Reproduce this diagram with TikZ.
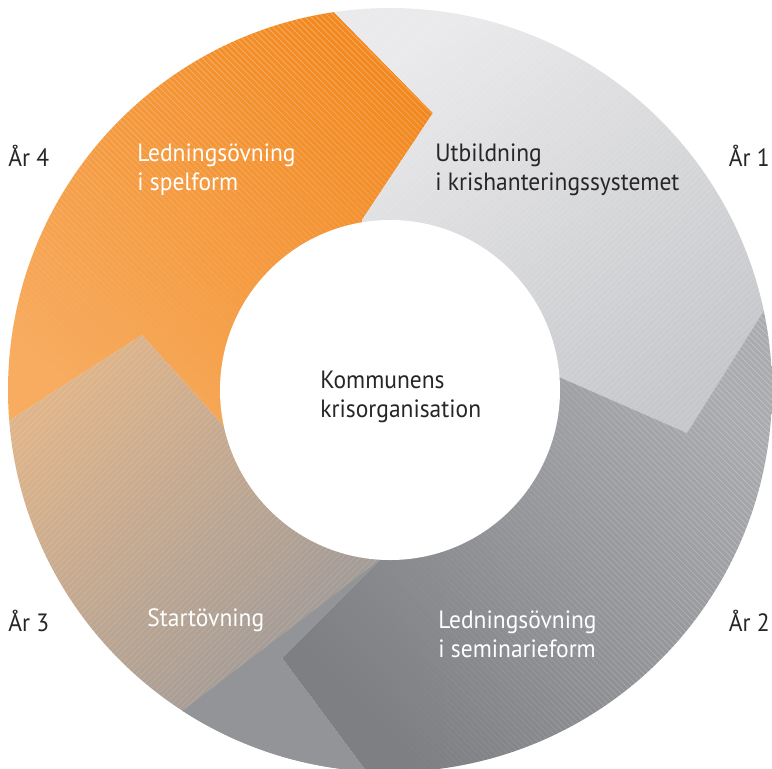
\documentclass[tikz,border=0pt]{standalone}
\usepackage{fontspec}
\setmainfont{PT Sans}[FakeStretch=0.94]
\usetikzlibrary{calc,patterns,fadings}

\definecolor{orangeD}{RGB}{242,136,30}
\definecolor{orangeL}{RGB}{247,172,96}
\definecolor{greyL}{RGB}{234,234,236}
\definecolor{greyM}{RGB}{198,199,202}
\definecolor{greyD}{RGB}{126,127,131}
\definecolor{greyE}{RGB}{170,171,175}
\definecolor{tanL}{RGB}{222,180,138}
\definecolor{tanG}{RGB}{150,150,154}
\definecolor{flatgrey}{RGB}{147,148,152}
\definecolor{textgrey}{RGB}{38,38,40}

\begin{document}
\begin{tikzpicture}[x=0.5pt, y=-0.5pt,
	every node/.style = {anchor=west, align=left, inner sep=0pt,
	font=\fontsize{12.5}{14.5}\selectfont},
	lighttext/.style = {text=white},
	darktext/.style = {text=textgrey},
	hatch/.style = {pattern=#1, pattern color=white, opacity=.2}]

	\useasboundingbox (0,0) rectangle (772,768);
	\clip (0,0) rectangle (772,768);

	\coordinate (c) at (390,390);
	% arrow heads: outer end, tip, inner end
	\coordinate (o1) at (330,8);   \coordinate (t1) at (433,113); \coordinate (i1) at (362,220);
	\coordinate (o2) at (763,312); \coordinate (t2) at (687,433); \coordinate (i2) at (559,377);
	\coordinate (o3) at (366,771); \coordinate (t3) at (282,658); \coordinate (i3) at (381,559);
	\coordinate (o4) at (10,420);  \coordinate (t4) at (142,335); \coordinate (i4) at (223,425);
	\coordinate (p3) at (185,709);

	\begin{scope}
	\clip (c) circle [radius=382];

	% Ar 4
	\begin{scope}
	\clip (i4) -- (t4) -- ($(t4)!1.5!(o4)$) -- ($(c)+(175:700)$) -- ($(c)+(215:700)$)
		-- ($(c)+(255:700)$) -- ($(t1)!1.5!(o1)$) -- (t1) -- (i1) -- (c) -- cycle;
	\shade[top color=orangeD, bottom color=orangeL, shading angle=-40] (0,0) rectangle (450,450);
	\fill[hatch=north west lines, opacity=.3, path fading=south] (0,0) rectangle (450,360);
	\end{scope}

	% Ar 1
	\begin{scope}
	\clip (i1) -- (t1) -- ($(t1)!1.5!(o1)$) -- ($(c)+(260:700)$) -- ($(c)+(300:700)$)
		-- ($(c)+(340:700)$) -- ($(t2)!1.5!(o2)$) -- (t2) -- (i2) -- (c) -- cycle;
	\shade[top color=greyL, bottom color=greyM, shading angle=35] (330,0) rectangle (772,440);
	\fill[hatch=north east lines, opacity=.12] (330,0) rectangle (772,440);
	\end{scope}

	% Ar 2
	\begin{scope}
	\clip (i2) -- (t2) -- ($(t2)!1.5!(o2)$) -- ($(c)+(-15:700)$) -- ($(c)+(35:700)$)
		-- ($(c)+(88:700)$) -- ($(t3)!1.5!(o3)$) -- (t3) -- (i3) -- (c) -- cycle;
	\shade[top color=greyE, bottom color=greyD, shading angle=-45] (280,300) rectangle (772,768);
	\fill[hatch=north west lines, opacity=.25, path fading=west] (380,300) rectangle (772,768);
	\end{scope}

	% Ar 3
	\begin{scope}
	\clip (i3) -- (t3) -- ($(t3)!1.5!(o3)$) -- ($(c)+(90:700)$) -- ($(c)+(130:700)$)
		-- ($(c)+(172:700)$) -- ($(t4)!1.5!(o4)$) -- (t4) -- (i4) -- (c) -- cycle;
	\shade[top color=tanL, bottom color=tanG, shading angle=45] (0,330) rectangle (400,768);
	\fill[hatch=north east lines, opacity=.12] (0,330) rectangle (400,768);
	\fill[flatgrey] (i3) -- ($(i3)!1.4!(p3)$) -- ($(c)+(125:700)$) -- ($(c)+(90:700)$)
		-- ($(t3)!1.5!(o3)$) -- (t3) -- cycle;
	\end{scope}
	\end{scope}

	\fill[white] (c) circle [radius=170];

	% texts
	\node[darktext] (centre) at (320,397) {Kommunens\\krisorganisation};
	\node[lighttext] (spel) at (137,170) {Ledningsövning\\i spelform};
	\node[darktext] (utb) at (435,170) {Utbildning\\i krishanteringssystemet};
	\node[lighttext] (sem) at (438,634) {Ledningsövning\\i seminarieform};
	\node[lighttext] (start) at (147,620) {Startövning};

	\node[darktext, anchor=east] (ar1) at (770,156) {År 1};
	\node[darktext, anchor=east] (ar2) at (770,621) {År 2};
	\node[darktext] (ar3) at (8,621) {År 3};
	\node[darktext] (ar4) at (8,156) {År 4};
\end{tikzpicture}
\end{document}
